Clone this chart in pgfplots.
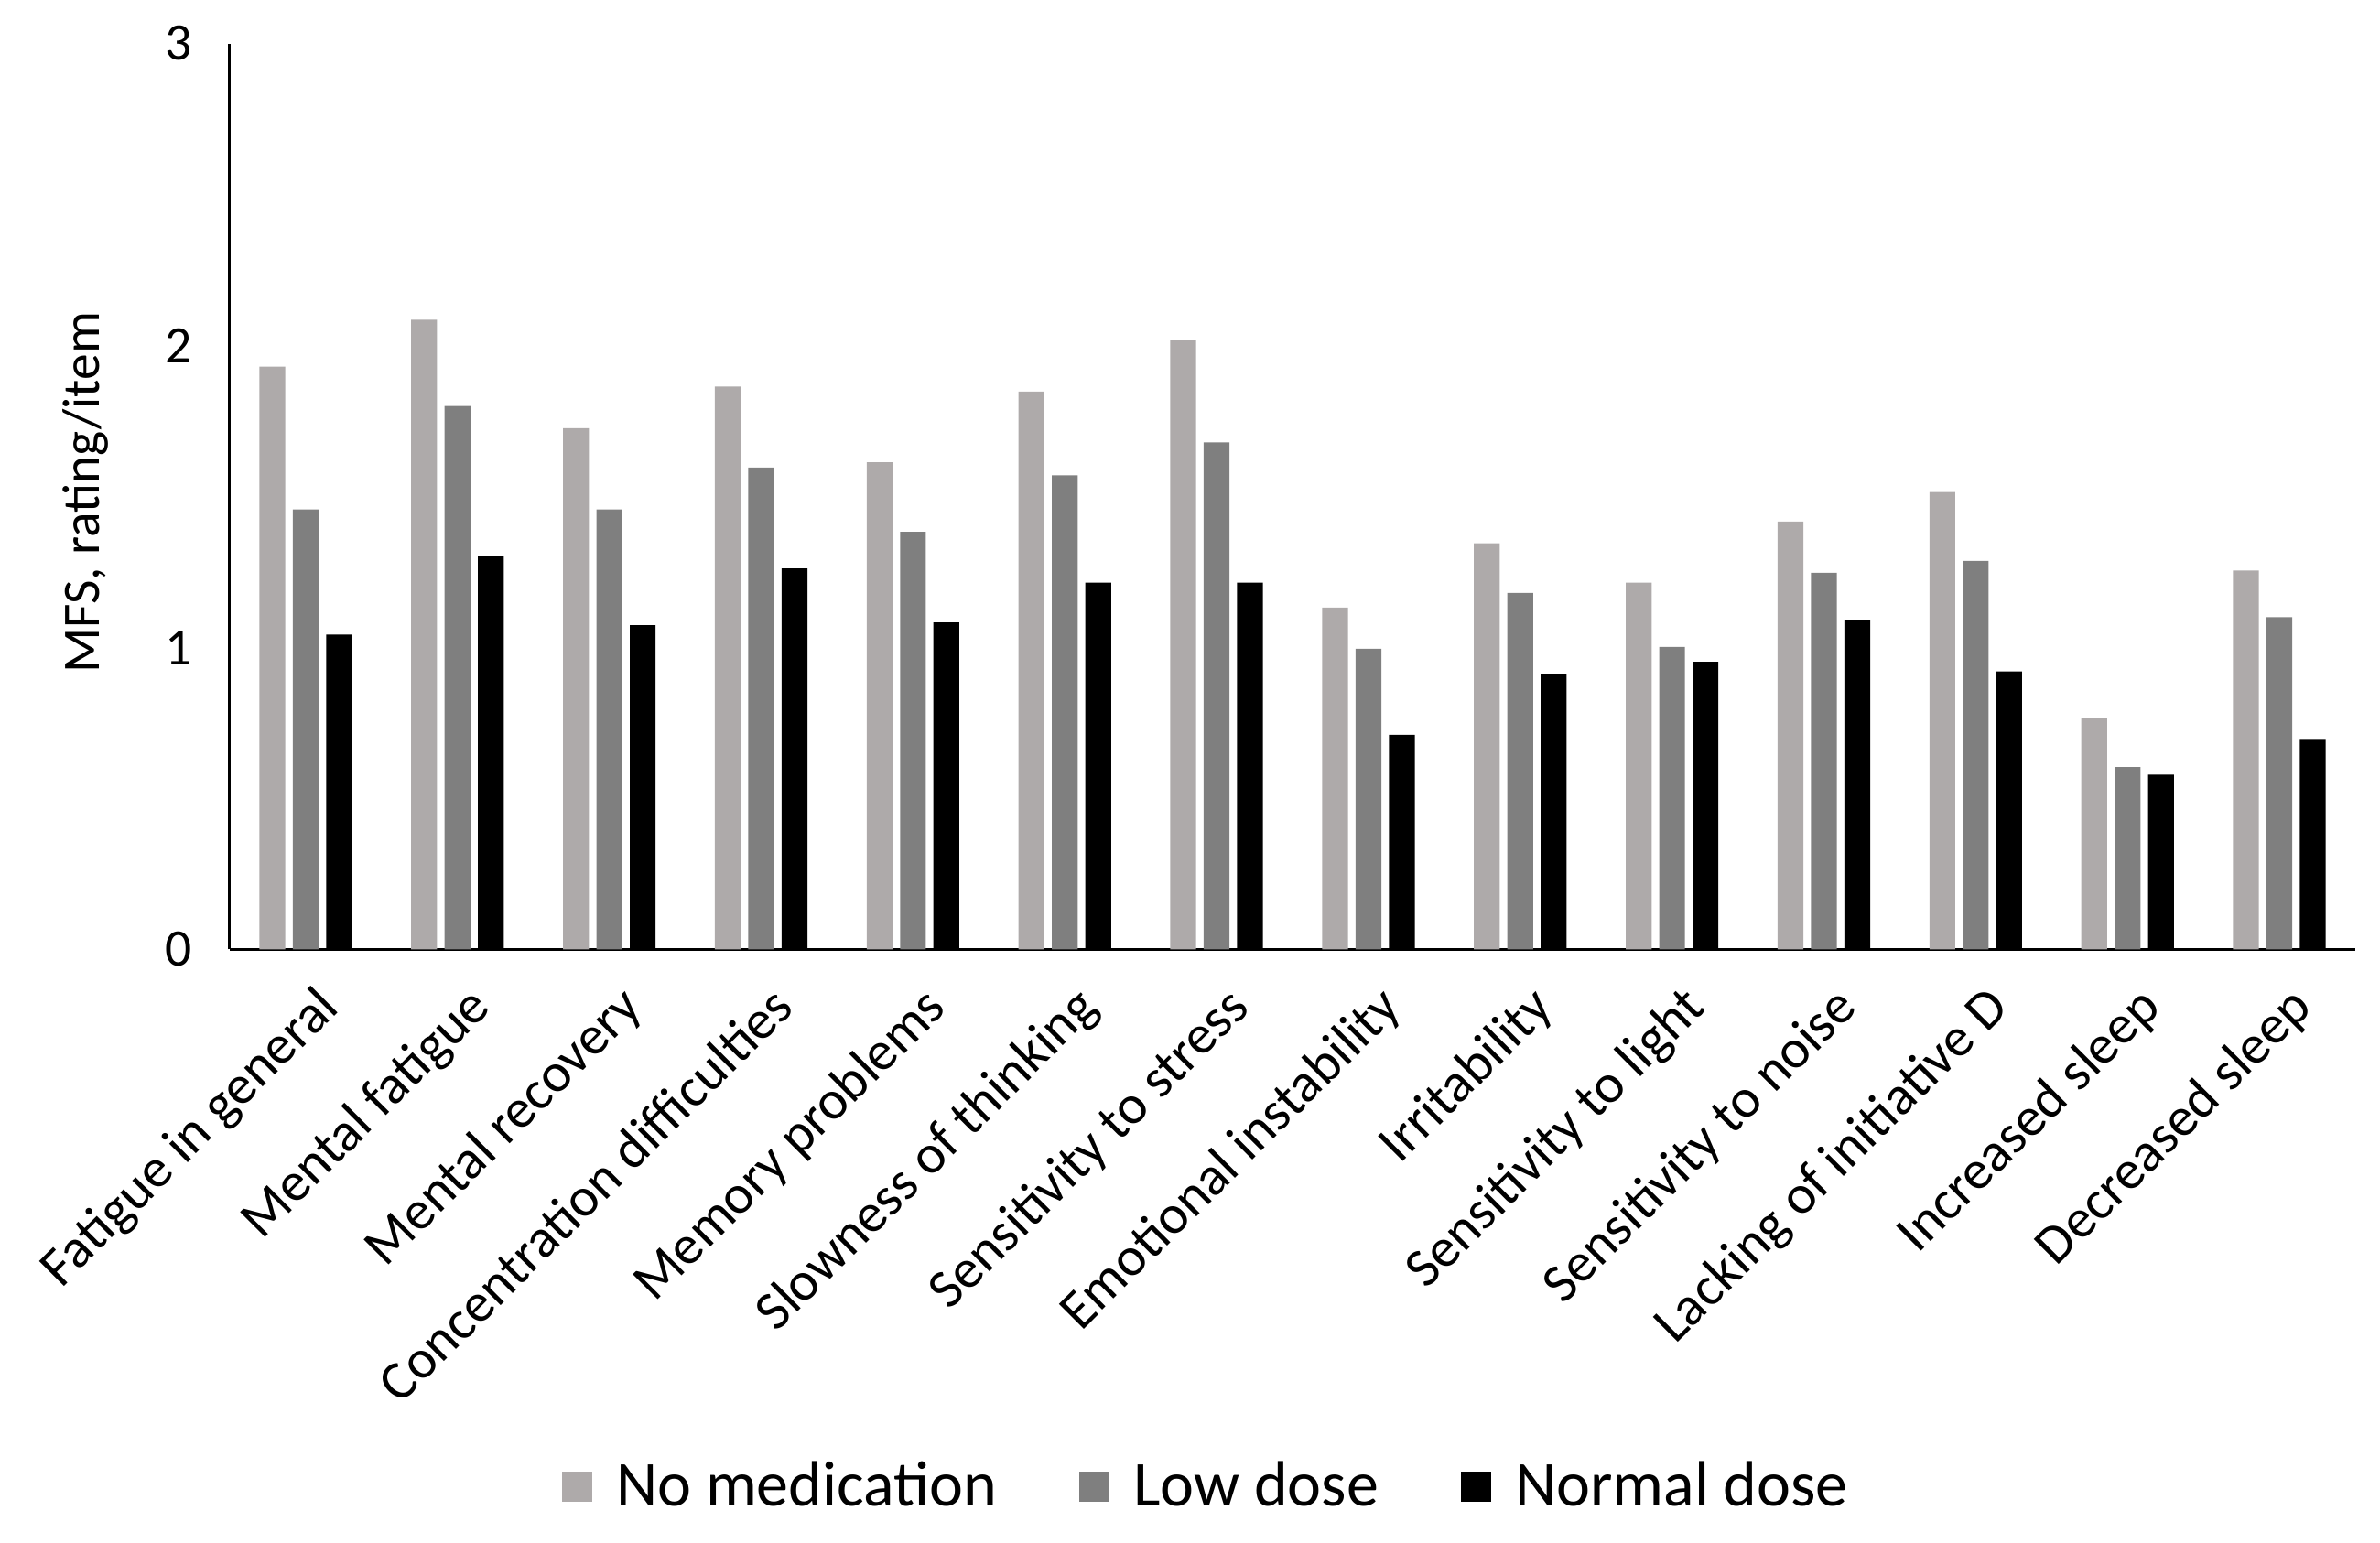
\documentclass[border=0pt]{standalone}
\usepackage{pgfplots}
\pgfplotsset{compat=1.18}
\usepackage{fontspec}
\setmainfont{Carlito}
\definecolor{cNo}{HTML}{AEAAAA}
\definecolor{cLow}{HTML}{7F7F7F}
\definecolor{cNor}{HTML}{000000}
\begin{document}
\begin{tikzpicture}
\begin{axis}[
  at={(0,0)}, anchor=south west,
  scale only axis, width=464.4pt, height=198pt,
  xmin=-0.5, xmax=13.5, ymin=0, ymax=3,
  axis x line*=bottom, axis y line*=left,
  axis line style={line width=0.6pt, black},
  ytick={0,1,2,3},
  xtick={0,...,13},
  xticklabels={Fatigue in general, Mental fatigue, Mental recovery, Concentration difficulties, Memory problems, Slowness of thinking, Sensitivity to stress, Emotional instability, Irritability, Sensitivity to light, Sensitivity to noise, Lacking of initiative D, Increased sleep, Decreased sleep},
  major tick length=0pt,
  /pgf/number format/assume math mode=true,
  yticklabel style={font=\fontsize{11.5}{13}\selectfont, xshift=-4.8pt},
  xticklabel style={font=\fontsize{12}{14}\selectfont, inner sep=0pt, text height=0.72em, text depth=0.22em, xshift=6pt, yshift=-11.3pt, rotate=45, anchor=east},
  ylabel={MFS, rating/item},
  ylabel style={font=\fontsize{11.5}{13}\selectfont, at={(axis description cs:-0.068,0.5045)}, anchor=center},
  ybar, bar width=0.17,
  legend style={at={(0.461,0)}, anchor=center, yshift=-117.4pt, draw=none, fill=none, legend columns=-1, font=\fontsize{14}{16}\selectfont, /tikz/every even column/.append style={column sep=16pt}, /tikz/every odd column/.append style={column sep=3.2pt}},
  legend image code/.code={\fill[#1] (0pt,-3.3pt) rectangle (6.6pt,3.3pt);},
]
\addplot[fill=cNo, draw=none, bar shift=-0.22] coordinates {(0,1.930) (1,2.085) (2,1.726) (3,1.864) (4,1.613) (5,1.847) (6,2.017) (7,1.132) (8,1.345) (9,1.215) (10,1.417) (11,1.515) (12,0.766) (13,1.255)};
\addplot[fill=cLow, draw=none, bar shift=0] coordinates {(0,1.457) (1,1.800) (2,1.457) (3,1.596) (4,1.383) (5,1.570) (6,1.679) (7,0.996) (8,1.181) (9,1.002) (10,1.247) (11,1.287) (12,0.604) (13,1.100)};
\addplot[fill=cNor, draw=none, bar shift=0.22] coordinates {(0,1.043) (1,1.302) (2,1.074) (3,1.262) (4,1.083) (5,1.215) (6,1.215) (7,0.711) (8,0.913) (9,0.953) (10,1.091) (11,0.921) (12,0.579) (13,0.694)};
\legend{No medication, Low dose, Normal dose}
\end{axis}
\pgfresetboundingbox
\path[use as bounding box] (-50.2pt,-129.6pt) rectangle (469.8pt,207.5pt);
\end{tikzpicture}
\end{document}
